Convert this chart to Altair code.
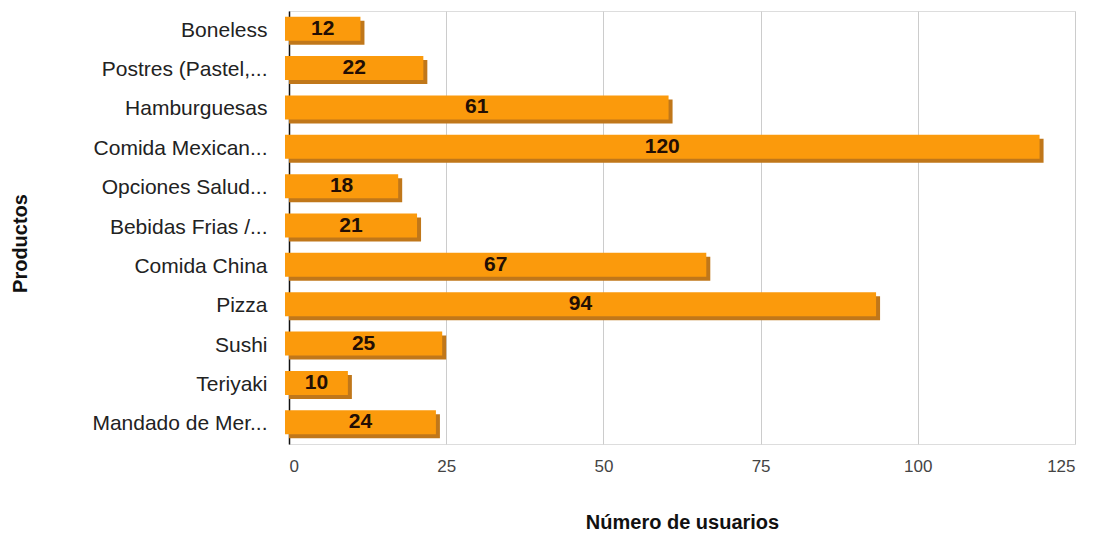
import altair as alt
import pandas as pd

productos = ["Boneless", "Postres (Pastel,...", "Hamburguesas", "Comida Mexican...",
             "Opciones Salud...", "Bebidas Frias /...", "Comida China", "Pizza",
             "Sushi", "Teriyaki", "Mandado de Mer..."]
usuarios = [12, 22, 61, 120, 18, 21, 67, 94, 25, 10, 24]
x_ticks = [0, 25, 50, 75, 100, 125]

df = pd.DataFrame({"producto": productos, "usuarios": usuarios})

y_enc = alt.Y("producto:N", sort=productos, title="Productos",
              scale=alt.Scale(paddingInner=0.3, paddingOuter=0.15),
              axis=alt.Axis(ticks=False, labelPadding=22, labelFontSize=21,
                            labelFont="Liberation Sans", labelColor="#222222",
                            domain=True, domainColor="#111111", domainWidth=1.5,
                            grid=False, titleFont="Liberation Sans", titleFontSize=20,
                            titleFontWeight="bold", titleColor="#111111",
                            titleX=-259, titleY=232, titleAngle=-90, labelLimit=260))
x_scale = alt.Scale(domain=[0, 125], nice=False)
x_axis = alt.Axis(values=x_ticks, ticks=False, domain=False, grid=True,
                  gridColor="#cccccc", gridWidth=1, labelPadding=14,
                  labelFontSize=17, labelFont="Liberation Sans",
                  labelColor="#444444", title="Número de usuarios",
                  titleFont="Liberation Sans", titleFontSize=20,
                  titleFontWeight="bold", titleColor="#111111", titlePadding=38)

base = alt.Chart(df)

shadow = base.mark_bar(color="#c0771a", size=24, yOffset=2).encode(
    x=alt.X("usuarios:Q", scale=x_scale, axis=x_axis),
    y=y_enc,
)
front = base.mark_bar(color="#fb9a0c", size=24, xOffset=-4, x2Offset=-4, yOffset=-2).encode(
    x=alt.X("usuarios:Q", scale=x_scale),
    y=alt.Y("producto:N", sort=productos),
)
labels = base.transform_calculate(mid="datum.usuarios / 2").mark_text(
    font="Liberation Sans", fontSize=21, fontWeight="bold", color="#220e04",
    dx=-4, dy=-2, baseline="middle", align="center").encode(
    x=alt.X("mid:Q", scale=x_scale),
    y=alt.Y("producto:N", sort=productos),
    text="usuarios:Q",
)

chart = alt.layer(shadow, front, labels).properties(
    width=786, height=433,
    autosize=alt.AutoSizeParams(type="none"),
    padding={"left": 281, "top": 3, "right": 10, "bottom": 90},
).configure_view(stroke=None).configure(background="white")

chart.save("out.html", embed_options={"renderer": "svg", "actions": False})
